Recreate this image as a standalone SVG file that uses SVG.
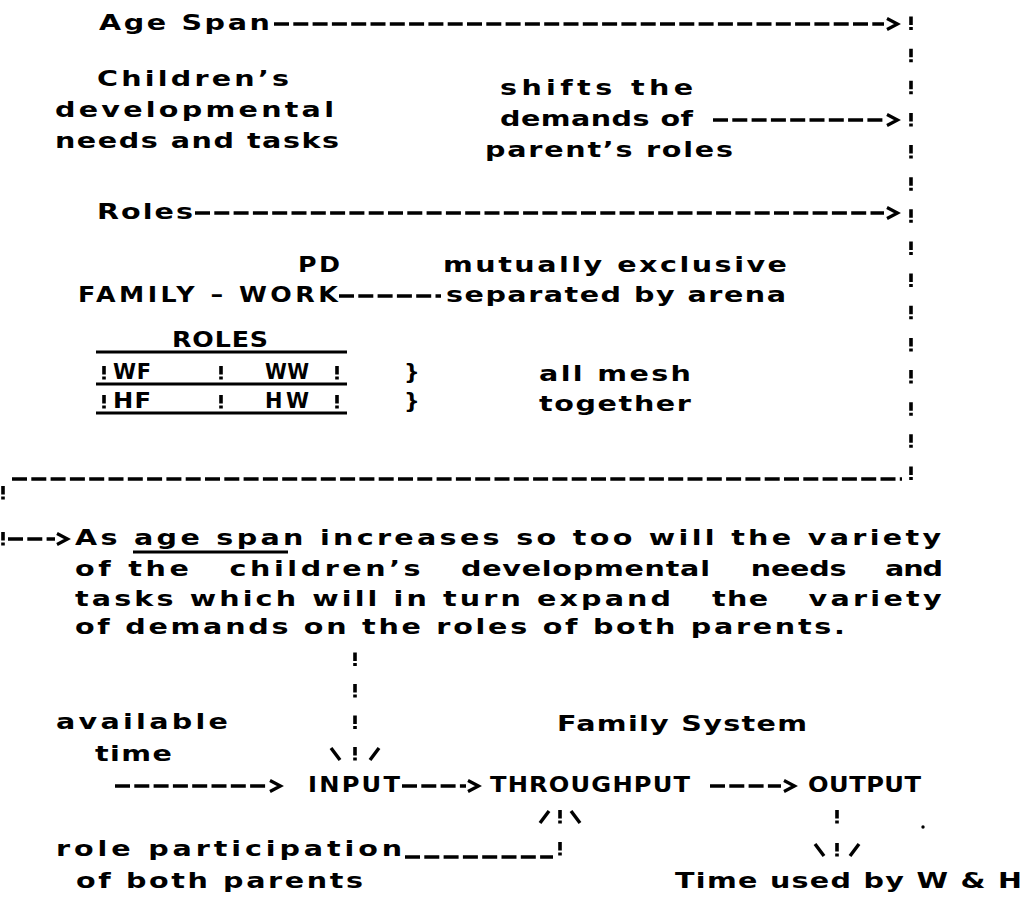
<svg xmlns="http://www.w3.org/2000/svg" width="1027" height="900" viewBox="0 0 1027 900">
<style>
  text { font-family: "DejaVu Sans", "Verdana", sans-serif; font-weight: bold; font-size: 22px; fill: #000; }
  .dash { stroke: #000; stroke-width: 3.4; stroke-dasharray: 15 4.3; fill: none; }
  .solid { stroke: #000; stroke-width: 2.8; fill: none; }
  .head { stroke: #000; stroke-width: 3.2; fill: none; stroke-linejoin: miter; }
  .slash { stroke: #000; stroke-width: 3.4; fill: none; }
  .col { stroke: #000; stroke-width: 3.6; stroke-dasharray: 8.5 2 3 18.64; fill: none; }
</style>
<defs>
  <g id="bang"><rect x="-1.8" y="0" width="3.6" height="8.5"/><rect x="-1.8" y="10.5" width="3.6" height="3"/></g>
  <g id="gt"><polyline points="0,-5.5 10.5,0 0,5.5" class="head"/></g>
</defs>
<rect width="1027" height="900" fill="#fff"/>

<g id="age-span"><text transform="translate(99 30) scale(1.3 1)" textLength="131.5">Age Span</text></g>

<g id="children-needs">
  <text transform="translate(97 86) scale(1.3 1)" textLength="147.7">Children’s</text>
  <text transform="translate(55 117) scale(1.3 1)" textLength="214.6">developmental</text>
  <text transform="translate(55 148) scale(1.3 1)" textLength="218.5">needs and tasks</text>
</g>

<g id="shifts-demands">
  <text transform="translate(500 95) scale(1.3 1)" textLength="148.5">shifts the</text>
  <text transform="translate(500 126) scale(1.3 1)" textLength="148.5">demands of</text>
  <text transform="translate(485 157) scale(1.3 1)" textLength="190.8">parent’s roles</text>
</g>

<g id="roles"><text transform="translate(97 219) scale(1.3 1)" textLength="73.8">Roles</text></g>

<g id="pd-family-work">
  <text transform="translate(298 272) scale(1.15 1)" textLength="36.5">PD</text>
  <text transform="translate(78 302) scale(1.15 1)" textLength="226">FAMILY – WORK</text>
</g>

<g id="mutually-separated">
  <text transform="translate(443 272) scale(1.3 1)" textLength="264.6">mutually exclusive</text>
  <text transform="translate(446 302) scale(1.3 1)" textLength="261.5">separated by arena</text>
</g>

<g id="roles-table">
  <text transform="translate(172 347) scale(1.15 1)" textLength="83.5">ROLES</text>
  <line x1="96" y1="352" x2="347" y2="352" class="solid"/>
  <use href="#bang" x="104" y="366"/>
  <text transform="translate(113 379) scale(0.95 1)" textLength="40">WF</text>
  <use href="#bang" x="221" y="366"/>
  <text transform="translate(265 379) scale(0.9 1)" textLength="48.9">WW</text>
  <use href="#bang" x="337" y="366"/>
  <line x1="96" y1="384" x2="347" y2="384" class="solid"/>
  <use href="#bang" x="104" y="395"/>
  <text transform="translate(113 408) scale(1.1 1)" textLength="34.5">HF</text>
  <use href="#bang" x="221" y="395"/>
  <text transform="translate(265 408) scale(0.95 1)" textLength="46.3">HW</text>
  <use href="#bang" x="337" y="395"/>
  <line x1="96" y1="413" x2="347" y2="413" class="solid"/>
</g>

<g id="braces">
  <text x="404" y="379">}</text>
  <text x="404" y="408">}</text>
</g>

<g id="all-mesh">
  <text transform="translate(539 381) scale(1.3 1)" textLength="116.9">all mesh</text>
  <text transform="translate(539 411) scale(1.3 1)" textLength="116.9">together</text>
</g>

<g id="paragraph">
  <text transform="translate(75 545) scale(1.3 1)" textLength="666.2">As age span increases so too will the variety</text>
  <line x1="133" y1="552" x2="288" y2="552" class="solid"/>
  <text transform="translate(75 576) scale(1.3 1)" textLength="87.7">of the</text>
  <text transform="translate(229.6 576) scale(1.3 1)" textLength="146.9">children’s</text>
  <text transform="translate(461 576) scale(1.3 1)" textLength="191.5">developmental</text>
  <text transform="translate(750.7 576) scale(1.3 1)" textLength="73.8">needs</text>
  <text transform="translate(885 576) scale(1.3 1)" textLength="44.6">and</text>
  <text transform="translate(75 606) scale(1.3 1)" textLength="458.5">tasks which will in turn expand</text>
  <text transform="translate(712 606) scale(1.3 1)" textLength="43.1">the</text>
  <text transform="translate(808.6 606) scale(1.3 1)" textLength="102.3">variety</text>
  <text transform="translate(75 634) scale(1.3 1)" textLength="592.3">of demands on the roles of both parents.</text>
</g>

<g id="available-time">
  <text transform="translate(56 729) scale(1.3 1)" textLength="132.3">available</text>
  <text transform="translate(95 761) scale(1.3 1)" textLength="59.2">time</text>
</g>

<g id="family-system"><text transform="translate(557 731) scale(1.3 1)" textLength="192.3">Family System</text></g>

<g id="input"><text transform="translate(308 792) scale(1.1 1)" textLength="83.6">INPUT</text></g>
<g id="throughput"><text transform="translate(490 792) scale(1.1 1)" textLength="181.8">THROUGHPUT</text></g>
<g id="output"><text transform="translate(808 792) scale(1.1 1)" textLength="102.7">OUTPUT</text></g>

<g id="role-participation">
  <text transform="translate(56 856) scale(1.3 1)" textLength="266.2">role participation</text>
  <text transform="translate(76 888) scale(1.3 1)" textLength="220.8">of both parents</text>
</g>

<g id="time-used"><text transform="translate(675 888) scale(1.3 1)" textLength="266.9">Time used by W &amp; H</text></g>

<g id="connectors">
  <line x1="274" y1="24" x2="884" y2="24" class="dash"/>
  <use href="#gt" x="887" y="24"/>
  <line x1="713" y1="120" x2="884" y2="120" class="dash"/>
  <use href="#gt" x="887" y="120"/>
  <line x1="195" y1="213" x2="884" y2="213" class="dash"/>
  <use href="#gt" x="887" y="213"/>
  <line x1="911" y1="16.5" x2="911" y2="480" class="col"/>
  <line x1="339" y1="296" x2="441" y2="296" class="dash"/>
  <line x1="12" y1="479" x2="902" y2="479" class="dash"/>
  <use href="#bang" x="3" y="486"/>
  <use href="#bang" x="3" y="532"/>
  <line x1="8" y1="539" x2="55" y2="539" class="dash"/>
  <use href="#gt" x="57" y="539"/>
  <use href="#bang" x="355" y="652.5"/>
  <use href="#bang" x="355" y="684"/>
  <use href="#bang" x="355" y="715.5"/>
  <line x1="331" y1="748" x2="340" y2="760" class="slash"/>
  <use href="#bang" x="355" y="747"/>
  <line x1="379" y1="748" x2="370" y2="760" class="slash"/>
  <line x1="115" y1="786" x2="267" y2="786" class="dash"/>
  <use href="#gt" x="270" y="786"/>
  <line x1="402" y1="786" x2="466" y2="786" class="dash"/>
  <use href="#gt" x="468" y="786"/>
  <line x1="710" y1="786" x2="781" y2="786" class="dash"/>
  <use href="#gt" x="784" y="786"/>
  <line x1="405" y1="857" x2="553" y2="857" class="dash"/>
  <use href="#bang" x="560" y="842"/>
  <line x1="540" y1="823" x2="549" y2="811" class="slash"/>
  <use href="#bang" x="560" y="810"/>
  <line x1="571" y1="811" x2="580" y2="823" class="slash"/>
  <use href="#bang" x="837" y="810"/>
  <line x1="815" y1="844" x2="824" y2="856" class="slash"/>
  <use href="#bang" x="837" y="843"/>
  <line x1="859" y1="844" x2="850" y2="856" class="slash"/>
  <circle cx="923" cy="827" r="1.7" fill="#000"/>
</g>
</svg>
